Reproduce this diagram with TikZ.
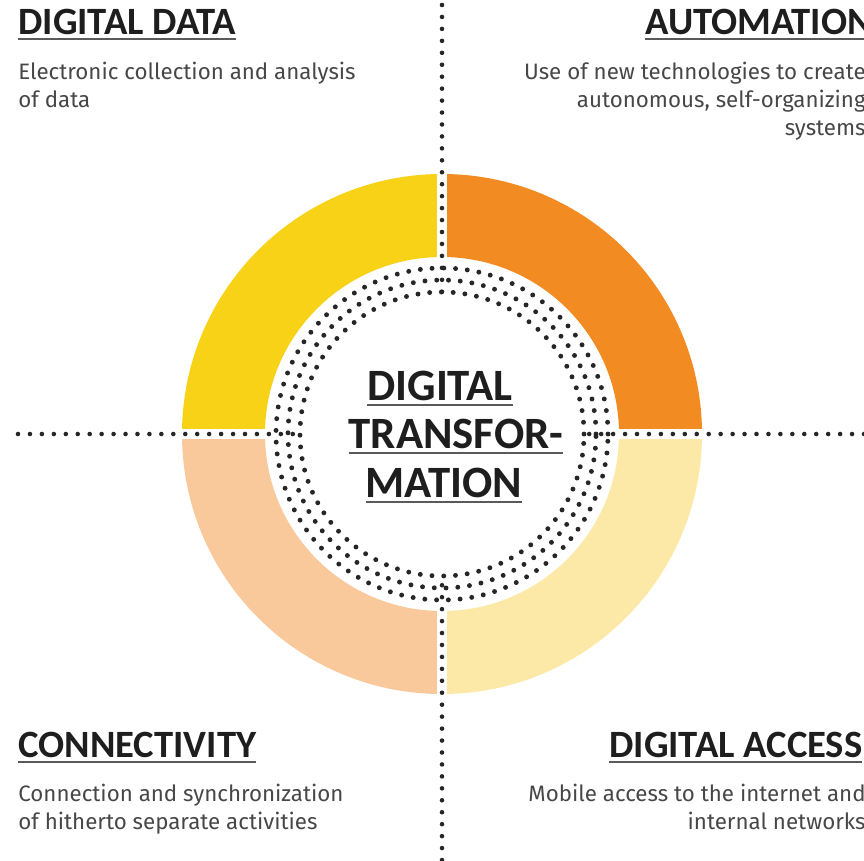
\documentclass[tikz,border=0pt]{standalone}
\usepackage{fontspec}
\setmainfont{Fira Sans}
\newfontfamily\headfont{Carlito}
\usetikzlibrary{positioning,calc}
\definecolor{dataYellow}{HTML}{F7D217}
\definecolor{autoOrange}{HTML}{F28B22}
\definecolor{connPeach}{HTML}{F9C99B}
\definecolor{accessCream}{HTML}{FDE9A7}
\definecolor{inkgray}{HTML}{474747}
\definecolor{headink}{HTML}{1E1E1E}
\definecolor{rulegray}{HTML}{5A5A5A}
% underlined heading text
\newcommand{\ulbox}[1]{\setbox0\hbox{#1}\rlap{\textcolor{rulegray}{\rule[-3.2pt]{\wd0}{1.1pt}}}\box0}
\tikzset{
    headline/.style={
           font=\headfont\bfseries\fontsize{22}{24}\selectfont,
           text=headink,
           inner sep=0pt,
           },
    bodytext/.style={
           font=\fontsize{12.7}{15.9}\selectfont,
           text=inkgray,
           inner sep=0pt,
           },
    centerline/.style={
           font=\headfont\bfseries\fontsize{25.5}{28}\selectfont,
           text=headink,
           inner sep=0pt,
           anchor=base,
           },
    dotline/.style={line width=2.6pt, line cap=round,
           dash pattern=on 0pt off 6.8pt, black!85},
    dotring/.style={line width=2.8pt, line cap=round,
           dash pattern=on 0pt off 6.7pt, black!85},
    gapline/.style={white, line width=5.7pt},
}

\begin{document}
\begin{tikzpicture}[x=0.02cm,y=0.02cm]

 \useasboundingbox (0,0) rectangle (864,-860);
 \clip (0,0) rectangle (864,-860);

 \coordinate (C) at (442,-434);

 % ring quadrants
 \fill[dataYellow, shift={(C)}] (90:260) arc[start angle=90, end angle=180, radius=260]
   -- (180:177) arc[start angle=180, end angle=90, radius=177] -- cycle;
 \fill[autoOrange, shift={(C)}] (0:260) arc[start angle=0, end angle=90, radius=260]
   -- (90:177) arc[start angle=90, end angle=0, radius=177] -- cycle;
 \fill[connPeach, shift={(C)}] (180:260) arc[start angle=180, end angle=270, radius=260]
   -- (270:177) arc[start angle=270, end angle=180, radius=177] -- cycle;
 \fill[accessCream, shift={(C)}] (270:260) arc[start angle=270, end angle=360, radius=260]
   -- (0:177) arc[start angle=0, end angle=-90, radius=177] -- cycle;
 \draw[gapline] ($(C)+(0,270)$) -- ($(C)+(0,-270)$);
 \draw[gapline] ($(C)+(-270,0)$) -- ($(C)+(270,0)$);

 % dotted rings
 \draw[dotring] (C) circle[radius=142];
 \draw[dotring] (C) circle[radius=154];
 \draw[dotring] (C) circle[radius=166];

 % dotted axes
 \coordinate (topEnd) at (442,-5);
 \coordinate (topIn) at ($(C)+(0,142)$);
 \coordinate (botEnd) at (442,-860);
 \coordinate (botIn) at ($(C)+(0,-142)$);
 \coordinate (leftEnd) at (18,-434);
 \coordinate (leftIn) at ($(C)+(-142,0)$);
 \coordinate (rightEnd) at (864,-434);
 \coordinate (rightIn) at ($(C)+(142,0)$);
 \draw[dotline] (topEnd) -- (topIn);
 \draw[dotline] (botEnd) -- (botIn);
 \draw[dotline] (leftEnd) -- (leftIn);
 \draw[dotline] (rightEnd) -- (rightIn);

 % centre title
 \node[centerline] (ctA) at (440,-400) {\ulbox{DIGITAL}};
 \node[centerline] (ctB) at (456,-448) {\ulbox{TRANSFOR-}};
 \node[centerline] (ctC) at (444,-497) {\ulbox{MATION}};

 % corner texts
 \node[headline, anchor=base west] (dataHead) at (18,-34) {\ulbox{DIGITAL DATA}};
 \node[bodytext, anchor=base west, align=left] (dataText) at (18,-107)
 {Electronic collection and analysis\\ of data};

 \node[headline, anchor=base west] (autoHead) at (645,-34) {\ulbox{AUTOMATION}};
 \node[bodytext, anchor=base east, align=right] (autoText) at (866,-135)
 {Use of new technologies to create\\ autonomous, self-organizing\\ systems};

 \node[headline, anchor=base west] (connHead) at (18,-757) {\ulbox{CONNECTIVITY}};
 \node[bodytext, anchor=base west, align=left] (connText) at (18,-829)
 {Connection and synchronization\\ of hitherto separate activities};

 \node[headline, anchor=base west] (accHead) at (609,-757) {\ulbox{DIGITAL ACCESS}};
 \node[bodytext, anchor=base east, align=right] (accText) at (866,-829)
 {Mobile access to the internet and\\ internal networks};

\end{tikzpicture}
\end{document}
